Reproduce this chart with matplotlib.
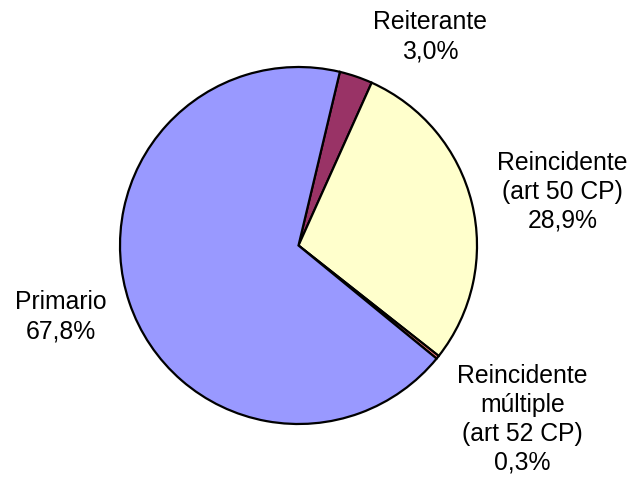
import matplotlib
matplotlib.use("Agg")
import matplotlib.pyplot as plt

# Slice data, clockwise from the Reiterante wedge
categories = ["Reiterante", "Reincidente\n(art 50 CP)", "Reincidente\nmúltiple\n(art 52 CP)", "Primario"]
values = [3.0, 28.9, 0.3, 67.8]
colors = ["#993366", "#FFFFCC", "#FF8080", "#9999FF"]

# Label anchor points in pie units (radius = 1)
label_pos = [(0.738, 1.170), (1.479, 0.300), (1.255, -0.975), (-1.334, -0.400)]

plt.rcParams["font.family"] = ["Liberation Sans", "DejaVu Sans"]

W, H = 639, 480
fig = plt.figure(figsize=(W / 100, H / 100), dpi=100)
ax = fig.add_axes([0, 0, 1, 1])

cx, cy, R = 298.5, 245.5, 178.5
ax.pie(values, colors=colors, startangle=76.6, counterclock=False,
       wedgeprops=dict(edgecolor="black", linewidth=1.6))

ax.set_xlim(-cx / R, (W - cx) / R)
ax.set_ylim(-(H - cy) / R, cy / R)
ax.set_aspect("equal")
ax.axis("off")

for cat, val, (x, y) in zip(categories, values, label_pos):
    txt = f"{cat}\n{val:.1f}%".replace(".", ",")
    ax.text(x, y, txt, ha="center", va="center", fontsize=17.8,
            linespacing=1.26, color="black", multialignment="center")

fig.savefig("out.png", dpi=100, facecolor="white")
